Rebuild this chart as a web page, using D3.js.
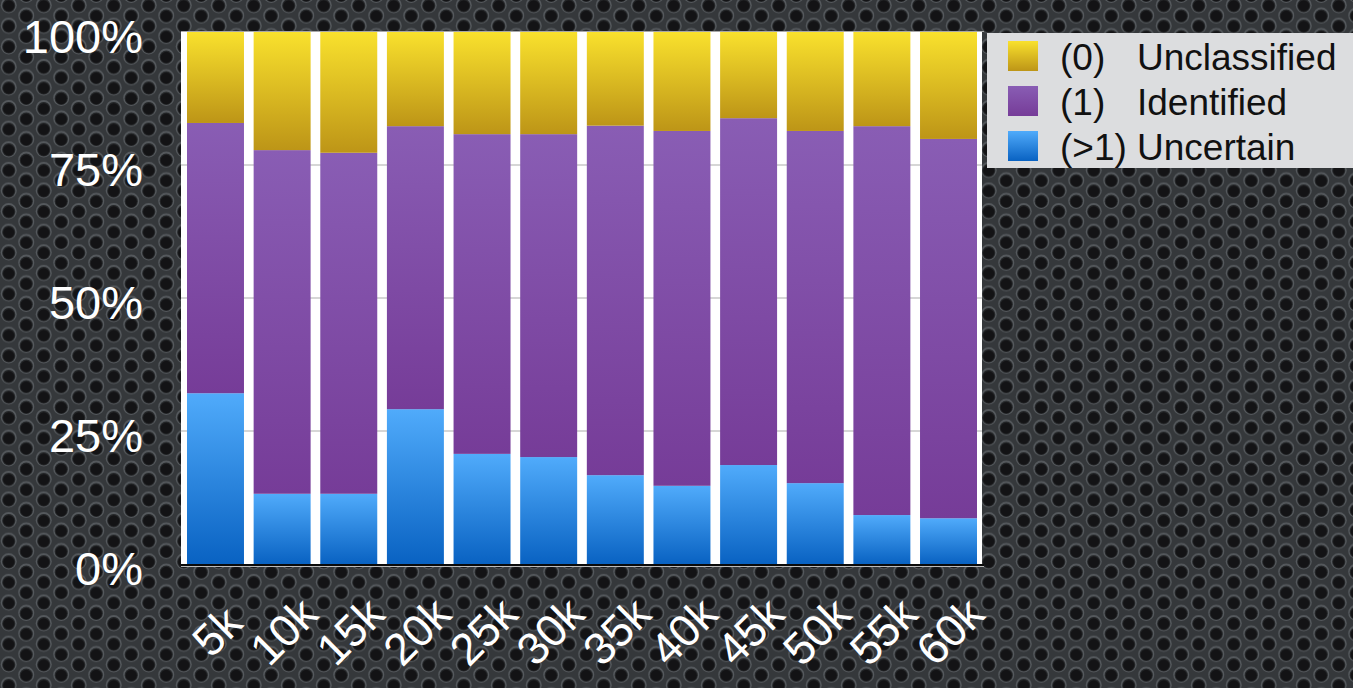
<!DOCTYPE html>
<html>
<head>
<meta charset="utf-8">
<script src="https://cdn.jsdelivr.net/npm/d3@7"></script>
<style>
  html, body { margin: 0; padding: 0; background: #2e3032; overflow: hidden; }
  svg { display: block; }
  text { font-family: "Liberation Sans", Arial, Helvetica, sans-serif; }
</style>
</head>
<body>
<svg id="chart" width="1353" height="688"></svg>
<script>
// ---- data ----
const categories = ["5k", "10k", "15k", "20k", "25k", "30k", "35k", "40k", "45k", "50k", "55k", "60k"];
const uncertain    = [32.1, 13.2, 13.2, 29.1, 20.7, 20.1, 16.7, 14.7, 18.6, 15.2, 9.2, 8.6];
const unclassified = [17.1, 22.2, 22.7, 17.7, 19.2, 19.2, 17.6, 18.6, 16.2, 18.6, 17.7, 20.1];
const identified   = uncertain.map((u, i) => +(100 - u - unclassified[i]).toFixed(1));
const legendCodes  = ["(0)", "(1)", "(>1)"];
const legendNames  = ["Unclassified", "Identified", "Uncertain"];
const yTicks       = [0, 25, 50, 75, 100];

// ---- layout ----
const W = 1353, H = 688;
const plot = { left: 181, right: 982, top: 32, bottom: 564 };

const svg = d3.select("#chart");
const defs = svg.append("defs");

// perforated metal background
const pat = defs.append("pattern")
  .attr("id", "metal").attr("patternUnits", "userSpaceOnUse")
  .attr("width", 35).attr("height", 20.6);
pat.append("rect").attr("width", 35).attr("height", 20.6).attr("fill", "#35383b");
const holes = [[8.75, 5.15], [26.25, 15.45], [8.75, 25.75], [26.25, -5.15], [-8.75, 15.45], [43.75, 5.15], [-8.75, -5.15], [43.75, 25.75]];
holes.forEach(([cx, cy]) => {
  pat.append("circle").attr("cx", cx).attr("cy", cy).attr("r", 8.0).attr("fill", "#55595d");
  pat.append("circle").attr("cx", cx).attr("cy", cy + 0.4).attr("r", 6.6).attr("fill", "#242628");
  pat.append("circle").attr("cx", cx).attr("cy", cy + 0.8).attr("r", 5.6).attr("fill", "#131315");
});
svg.append("rect").attr("width", W).attr("height", H).attr("fill", "url(#metal)");

// gradients
function grad(id, top, bottom) {
  const g = defs.append("linearGradient").attr("id", id)
    .attr("x1", 0).attr("y1", 0).attr("x2", 0).attr("y2", 1);
  g.append("stop").attr("offset", "0%").attr("stop-color", top);
  g.append("stop").attr("offset", "100%").attr("stop-color", bottom);
}
grad("gUnc", "#50abfb", "#0962c2");
grad("gId", "#895db4", "#763c98");
grad("gUncl", "#f9e12d", "#bd9517");
const fills = ["url(#gUnc)", "url(#gId)", "url(#gUncl)"];

// scales
const x = d3.scaleBand().domain(categories).range([187, 977]).paddingInner(0.145).paddingOuter(0);
const y = d3.scaleLinear().domain([0, 100]).range([plot.bottom, plot.top]);

// plot area
svg.append("rect")
  .attr("x", plot.left).attr("y", plot.top)
  .attr("width", plot.right - plot.left).attr("height", plot.bottom - plot.top)
  .attr("fill", "#ffffff");

// gridlines
svg.append("g").selectAll("line").data(yTicks.filter(t => t > 0 && t < 100)).join("line")
  .attr("x1", plot.left).attr("x2", plot.right)
  .attr("y1", d => y(d)).attr("y2", d => y(d))
  .attr("stroke", "#c8c8c8").attr("stroke-width", 1.5);
svg.append("line")
  .attr("x1", plot.left).attr("x2", plot.right + 2)
  .attr("y1", plot.top - 0.5).attr("y2", plot.top - 0.5)
  .attr("stroke", "#a8a8a8").attr("stroke-width", 1);

// stacked bars
const rows = categories.map((c, i) => ({ cat: c, unc: uncertain[i], id: identified[i], uncl: unclassified[i] }));
const stack = d3.stack().keys(["unc", "id", "uncl"]);
const layers = stack(rows);
svg.append("g").selectAll("g").data(layers).join("g")
  .attr("fill", (d, i) => fills[i])
  .selectAll("rect").data(d => d).join("rect")
  .attr("x", d => x(d.data.cat))
  .attr("width", x.bandwidth())
  .attr("y", d => y(d[1]))
  .attr("height", d => y(d[0]) - y(d[1]));

// bottom axis line
svg.append("line")
  .attr("x1", plot.left).attr("x2", plot.right + 2)
  .attr("y1", plot.bottom + 1).attr("y2", plot.bottom + 1)
  .attr("stroke", "#0a0a0a").attr("stroke-width", 2);
svg.append("line")
  .attr("x1", plot.left).attr("x2", plot.right + 2)
  .attr("y1", plot.bottom + 2.5).attr("y2", plot.bottom + 2.5)
  .attr("stroke", "#bbbbbb").attr("stroke-width", 1);

// y axis labels
const yAxis = d3.axisLeft(y).tickValues(yTicks).tickFormat(d => d + "%").tickSize(0).tickPadding(0);
const ya = svg.append("g").attr("transform", `translate(143,0)`).call(yAxis);
ya.select(".domain").remove();
ya.selectAll("text")
  .attr("fill", "#ffffff").attr("font-size", 47)
  .attr("font-family", "'Liberation Sans', Arial, Helvetica, sans-serif")
  .attr("dy", "0.43em");

// x axis labels
const xAxis = d3.axisBottom(x).tickSize(0).tickPadding(0);
const xa = svg.append("g").call(xAxis);
xa.select(".domain").remove();
xa.selectAll(".tick").attr("transform", d => `translate(${x(d) + x.bandwidth() / 2 + 1},631)`);
xa.selectAll("text")
  .attr("fill", "#ffffff").attr("font-size", 45)
  .attr("font-family", "'Liberation Sans', Arial, Helvetica, sans-serif")
  .attr("text-anchor", "middle").attr("dy", "0.36em").attr("y", 0)
  .attr("transform", "rotate(-45)");

// legend
const lg = svg.append("g");
lg.append("rect").attr("x", 987).attr("y", 33).attr("width", 370).attr("height", 135).attr("fill", "#dcdddf");
const legendFills = ["url(#gUncl)", "url(#gId)", "url(#gUnc)"];
legendCodes.forEach((code, i) => {
  const cy = 56 + i * 45;
  lg.append("rect").attr("x", 1008).attr("y", cy - 15).attr("width", 30).attr("height", 30).attr("fill", legendFills[i]);
  lg.append("text").attr("x", 1060).attr("y", cy + 14).attr("font-size", 37).attr("fill", "#111").text(code);
  lg.append("text").attr("x", 1137).attr("y", cy + 14).attr("font-size", 37).attr("fill", "#111").text(legendNames[i]);
});
</script>
</body>
</html>
